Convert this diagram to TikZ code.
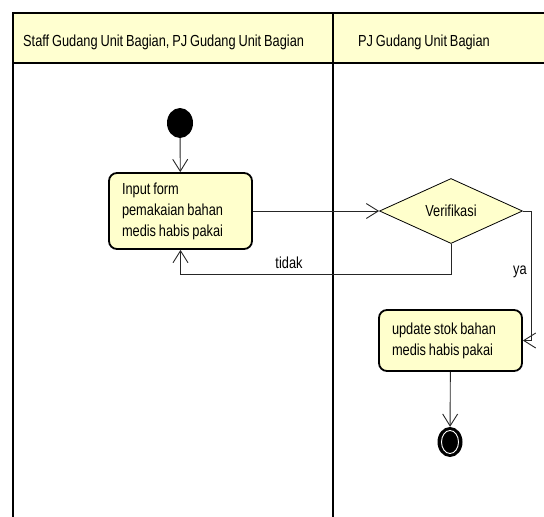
\documentclass[tikz,border=0pt]{standalone}
\usepackage{fontspec}
\setmainfont[FakeStretch=0.8,WordSpace=0.8]{Liberation Sans}
\usetikzlibrary{shapes.geometric,arrows.meta}
\definecolor{lanefill}{RGB}{255,255,208}
\definecolor{actfill}{RGB}{255,255,204}
\newcommand{\natsp}{\spaceskip=0pt\xspaceskip=0pt\relax}
\begin{document}
\begin{tikzpicture}[x=1pt,y=-1pt,
  font=\fontsize{16}{21}\selectfont,
  lane/.style={line width=2pt},
  act/.style={draw, line width=1.8pt, rounded corners=8pt, fill=actfill, align=left,
    inner xsep=13pt, text width=117pt, minimum height=76pt},
  flow/.style={draw=black!85, line width=0.9pt,
    -{Straight Barb[length=12pt,width=15pt,line width=0.9pt]}},
  dot/.style={ellipse, fill=black, inner sep=0pt},
  lbl/.style={inner sep=0pt}]
\useasboundingbox (0,0) rectangle (544,517);
% swimlanes
\fill[lanefill] (13,13) rectangle (544,63);
\draw[lane] (544,13) -- (13,13) -- (13,517);
\draw[lane] (13,63) -- (544,63);
\draw[lane] (333,13) -- (333,517);
\node[lbl, anchor=base west] (h1) at (23,46) {Staff Gudang Unit Bagian, PJ Gudang Unit Bagian};
\node[lbl, anchor=base west] (h2) at (358,46) {PJ Gudang Unit Bagian};
% nodes
\node[dot, minimum width=26pt, minimum height=30pt] (start) at (180,123) {};
\node[act] (input) at (180.5,211) {\natsp Input form\\pemakaian bahan\\medis habis pakai};
\node[diamond, draw, line width=0.8pt, fill=actfill, minimum width=143pt, minimum height=65pt,
  inner sep=0pt, aspect=2.2] (dec) at (451,211) {Verifikasi};
\node[act, minimum height=61pt] (upd) at (450.5,340.5) {\natsp update stok bahan\\medis habis pakai};
\node[dot, minimum width=25pt, minimum height=30pt] (end) at (450,442) {};
\draw[white, line width=0.9pt] (end.center) ellipse (8.5 and 11.5);
% connectors
\draw[flow] (start) -- (input);
\draw[flow] (input.east) -- (dec.west);
\draw[flow] (dec.south) -- ++(0,31) -| (input.south);
\node[lbl] (tidak) at (289,263) {tidak};
\draw[flow] (dec.east) -- ++(9,0) |- (upd.east);
\node[lbl] (ya) at (520,272) {ya};
\draw[flow] (upd) -- (end);
\end{tikzpicture}
\end{document}
